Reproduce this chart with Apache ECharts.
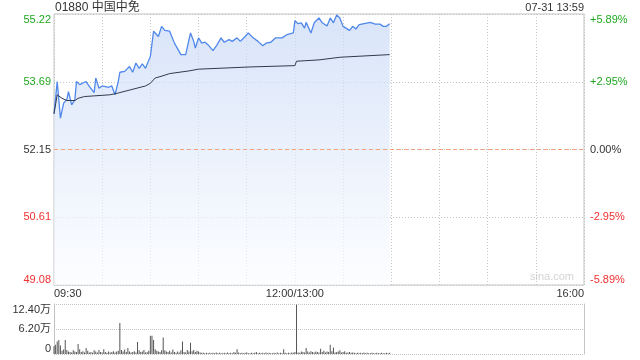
<!DOCTYPE html>
<html><head><meta charset="utf-8">
<script src="https://cdn.jsdelivr.net/npm/echarts@6/dist/echarts.min.js"></script>
<style>html,body{margin:0;padding:0;background:#fff}#c{width:640px;height:360px}</style>
</head><body><div id="c"></div>
<script>
var titleText = '01880 中国中免';
var timeText = '07-31 13:59';
var xTickLabels = {0: '09:30', 150: '12:00/13:00', 330: '16:00'};
var priceTickLabels = ['49.08', '50.61', '52.15', '53.69', '55.22'];
var pctTickLabels = ['-5.89%', '-2.95%', '0.00%', '+2.95%', '+5.89%'];
var prevClose = 52.15;

var priceMinutes = [0,2,4,6,8,9,11,13,14,16,20,22,25,26,28,30,34,36,38,40,41,44,47,49,51,53,55,57,58,60,62,63,65,67,69,72,75,79,82,85,87,88,90,92,94,96,99,101,104,106,109,111,114,116,119,121,124,127,130,132,135,138,142,145,149,150,152,154,156,157,160,162,165,167,170,172,174,176,178,180,184,186,188,190,197,200,203,205,207,209];
var priceValues = [52.96,53.69,52.86,53.20,53.28,53.46,53.16,53.28,53.69,53.62,53.69,53.58,53.44,53.77,53.54,53.59,53.56,53.59,53.39,53.69,53.90,53.92,54.03,53.90,54.11,53.99,54.09,53.99,54.03,54.26,54.83,54.79,54.71,54.94,54.85,54.83,54.56,54.30,54.30,54.79,54.60,54.45,54.68,54.56,54.58,54.52,54.39,54.49,54.68,54.58,54.64,54.60,54.68,54.60,54.71,54.79,54.68,54.60,54.50,54.56,54.58,54.68,54.68,54.75,54.79,55.07,55.00,55.02,54.90,55.03,54.79,55.02,55.13,55.02,54.95,55.13,55.02,55.20,55.13,54.94,54.85,54.94,54.88,54.98,55.03,54.99,54.99,54.94,54.94,55.00];

var avgMinutes = [0,2,5,8,13,15,19,35,40,57,60,63,66,72,84,90,122,150,151,165,178,209];
var avgValues = [52.96,53.39,53.31,53.26,53.26,53.31,53.35,53.39,53.43,53.59,53.65,53.77,53.80,53.87,53.93,53.97,54.02,54.05,54.15,54.18,54.24,54.30];

// volume per minute (万), minutes 0..209
var volumeValues = [
1.9,2.3,3.1,3.5,2.1,0.8,1.1,3.5,1.0,0.6,
0.5,0.4,0.9,0.6,0.5,2.5,1.2,0.5,0.7,0.4,
1.5,0.8,0.4,0.5,0.3,0.9,0.6,0.4,1.0,0.5,
0.4,1.2,0.5,0.3,0.6,0.4,0.5,0.7,0.4,0.6,
0.8,7.7,1.0,0.6,1.1,0.5,1.5,0.6,0.4,0.5,
0.7,0.4,3.0,0.9,0.5,0.6,1.0,0.4,0.5,0.8,
4.5,4.5,3.5,1.2,0.8,0.6,0.5,0.9,4.1,0.9,
0.6,0.5,0.8,0.4,1.1,0.5,0.3,0.6,0.4,0.9,
3.1,0.5,0.4,1.0,0.6,2.8,0.7,1.0,0.5,0.8,
0.6,0.4,0.3,0.3,0.2,0.3,0.2,0.3,0.2,0.3,
0.2,0.4,0.2,0.3,0.2,0.2,0.3,0.2,0.4,0.2,
0.3,0.2,0.5,0.3,1.2,0.4,0.2,0.3,0.2,0.3,
0.4,0.2,0.2,0.3,0.2,0.3,0.5,0.2,0.3,0.2,
0.3,0.2,0.4,0.2,0.3,0.2,0.2,0.3,0.2,0.4,
0.2,0.3,0.2,1.2,0.3,0.2,0.3,0.2,0.4,0.3,
0.5,12.2,0.4,0.3,0.6,0.5,0.4,1.5,0.6,0.4,
0.7,0.5,0.4,0.6,0.5,0.4,1.3,0.5,0.8,0.4,
0.6,0.5,2.3,0.7,1.6,0.4,0.5,0.6,0.9,0.4,
0.5,0.7,0.3,0.4,0.5,0.3,0.4,0.3,0.2,0.3,
0.2,0.3,0.2,0.4,0.2,0.3,0.2,0.2,0.3,0.2,
0.2,0.3,0.2,0.2,0.3,0.2,0.2,0.3,0.2,0.3];

var FONT = '"Liberation Sans", Arial, "Noto Sans CJK SC", sans-serif';
var GREEN = '#1fa81f', RED = '#f03030', DARK = '#333333';
var GRIDC = '#c4c4c4';

function zip(a, b) { return a.map(function (v, i) { return [v, b[i]]; }); }
var volumeData = volumeValues.map(function (v, i) { return [i, v]; });

function levelColor(v) { v = Math.round(v); return v > 0 ? GREEN : (v < 0 ? RED : DARK); }

var chart = echarts.init(document.getElementById('c'), null, {renderer: 'canvas'});
chart.setOption({
  animation: false,
  textStyle: {fontFamily: FONT},
  title: [
    {text: titleText, left: 55, top: 2, padding: 0, textStyle: {fontSize: 12, fontWeight: 'normal', color: '#333', fontFamily: FONT}},
    {text: timeText, right: 56, top: 2, padding: 0, textStyle: {fontSize: 11, fontWeight: 'normal', color: '#333', fontFamily: FONT}}
  ],
  graphic: [{type: 'text', right: 66, top: 271, style: {text: 'sina.com', fill: '#d4d4d4', font: '11px ' + FONT}}],
  grid: [
    {left: 54, right: 56, top: 14, height: 271, show: true, borderColor: GRIDC, borderWidth: 1},
    {left: 54, right: 56, top: 304, height: 50}
  ],
  xAxis: [
    {type: 'value', gridIndex: 0, min: 0, max: 330, interval: 30,
     axisLine: {show: false}, axisTick: {show: false},
     splitLine: {show: true, lineStyle: {color: GRIDC, type: [1, 2]}},
     axisLabel: {fontSize: 11, color: '#333', margin: 3, showMinLabel: true, showMaxLabel: true,
       alignMinLabel: 'left', alignMaxLabel: 'right',
       formatter: function (v) { return xTickLabels[v] || ''; }}},
    {type: 'value', gridIndex: 1, min: 0, max: 330, interval: 30, show: false}
  ],
  yAxis: [
    {type: 'value', gridIndex: 0, min: 49.08, max: 55.22, show: false},
    {type: 'value', gridIndex: 0, position: 'left', min: -2, max: 2, interval: 1,
     axisLine: {show: false}, axisTick: {show: false},
     splitLine: {show: true, lineStyle: {color: GRIDC, type: [1, 2]}},
     axisLabel: {fontSize: 11, margin: 3, color: levelColor,
       verticalAlignMinLabel: 'bottom', verticalAlignMaxLabel: 'top',
       formatter: function (v) { return priceTickLabels[Math.round(v) + 2]; }}},
    {type: 'value', gridIndex: 0, position: 'right', min: -2, max: 2, interval: 1,
     axisLine: {show: false}, axisTick: {show: false}, splitLine: {show: false},
     axisLabel: {fontSize: 11, margin: 6, color: levelColor,
       verticalAlignMinLabel: 'bottom', verticalAlignMaxLabel: 'top',
       formatter: function (v) { return pctTickLabels[Math.round(v) + 2]; }}},
    {type: 'value', gridIndex: 1, position: 'left', min: 0, max: 12.4, interval: 6.2,
     axisLine: {show: true, lineStyle: {color: GRIDC}}, axisTick: {show: false},
     splitLine: {show: true, lineStyle: {color: GRIDC, type: [1, 1]}},
     axisLabel: {fontSize: 11, margin: 3, color: '#333',
       verticalAlignMinLabel: 'bottom', verticalAlignMaxLabel: 'top',
       formatter: function (v) { return v === 0 ? '0' : v.toFixed(2) + '万'; }}},
    {type: 'value', gridIndex: 1, position: 'right', min: 0, max: 12.4, interval: 6.2,
     axisLine: {show: true, lineStyle: {color: GRIDC}}, axisTick: {show: false},
     splitLine: {show: false}, axisLabel: {show: false}}
  ],
  series: [
    {type: 'line', name: 'price', xAxisIndex: 0, yAxisIndex: 0, data: zip(priceMinutes, priceValues),
     symbol: 'none', lineStyle: {color: '#4f88ea', width: 1.3},
     areaStyle: {origin: 'start', color: new echarts.graphic.LinearGradient(0, 0, 0, 1, [
       {offset: 0, color: '#c8d8f6'}, {offset: 0.5, color: '#e2ebfa'}, {offset: 1, color: '#fbfcff'}])},
     markLine: {silent: true, symbol: 'none', label: {show: false},
       lineStyle: {color: '#f2a27a', type: [4, 3], width: 1},
       data: [{yAxis: prevClose}]}},
    {type: 'line', name: 'avg', xAxisIndex: 0, yAxisIndex: 0, data: zip(avgMinutes, avgValues),
     symbol: 'none', lineStyle: {color: '#2f3a4c', width: 1}},
    {type: 'bar', name: 'volume', xAxisIndex: 1, yAxisIndex: 3, data: volumeData,
     barWidth: 1, itemStyle: {color: '#555555'}}
  ]
});
</script>
</body></html>
